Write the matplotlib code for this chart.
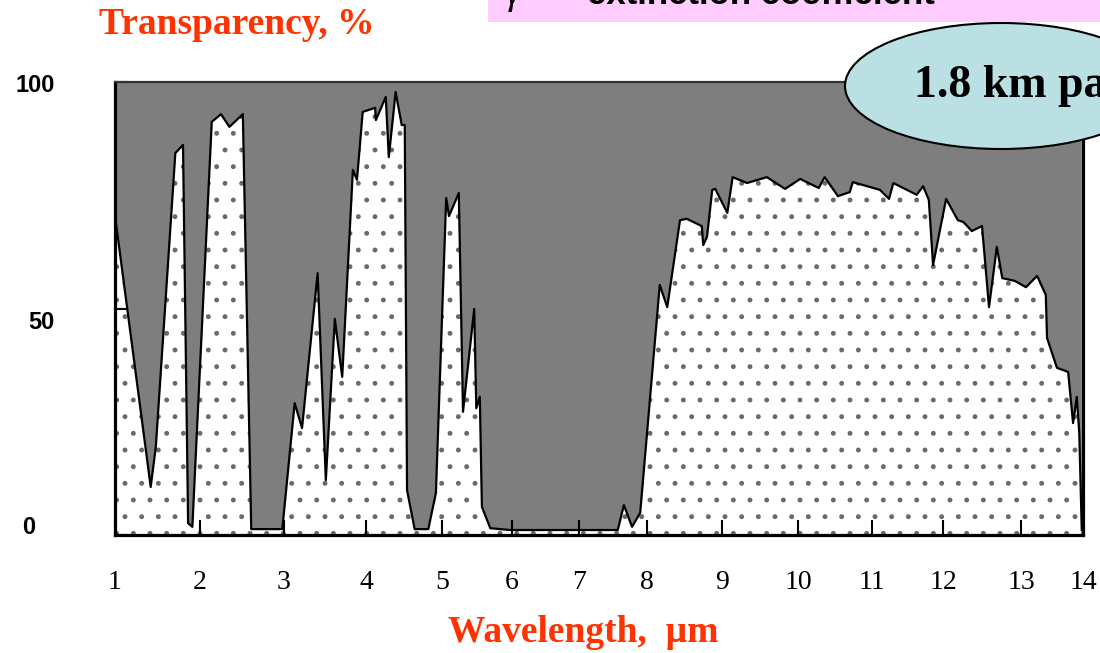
import matplotlib.pyplot as plt
import numpy as np
from matplotlib.patches import Ellipse, Rectangle
from matplotlib.transforms import ScaledTranslation, blended_transform_factory

# Atmospheric transmission over a 1.8 km horizontal path
wavelength = [1.00, 1.42, 1.48, 1.71, 1.80, 1.86, 1.91, 2.14, 2.25, 2.35,
              2.51, 2.61, 2.98, 3.13, 3.22, 3.41, 3.51, 3.62, 3.71, 3.84,
              3.89, 3.96, 4.12, 4.13, 4.26, 4.30, 4.39, 4.47, 4.51, 4.54,
              4.64, 4.82, 4.92, 5.06, 5.10, 5.24, 5.30, 5.46, 5.49, 5.54,
              5.57, 5.69, 5.97, 7.57, 7.66, 7.78, 7.90, 8.17, 8.27, 8.44,
              8.53, 8.73, 8.75, 8.80, 8.87, 8.91, 9.07, 9.14, 9.33, 9.59,
              9.83, 10.03, 10.28, 10.36, 10.54, 10.70, 10.74, 11.11, 11.24, 11.30,
              11.63, 11.72, 11.80, 11.86, 12.04, 12.19, 12.26, 12.37, 12.50, 12.59,
              12.69, 12.76, 12.92, 13.08, 13.26, 13.40, 13.42, 13.58, 13.76, 13.84,
              13.90, 13.94, 13.98]
transparency = [70.5, 10.6, 19.4, 84.3, 86.1, 2.6, 1.8, 91.2, 92.9, 90.1,
                 92.9, 1.3, 1.3, 29.1, 23.6, 57.8, 12.1, 47.7, 34.9, 80.6,
                 78.4, 93.4, 94.3, 91.6, 96.7, 83.4, 97.8, 90.5, 90.5, 9.9,
                 1.3, 1.3, 9.3, 74.4, 70.4, 75.5, 27.2, 49.9, 28.0, 30.5,
                 6.2, 1.5, 1.1, 1.1, 6.6, 1.8, 4.9, 55.2, 50.3, 69.5,
                 69.8, 68.2, 64.0, 65.8, 76.2, 76.4, 71.1, 79.0, 77.7, 79.0,
                 76.4, 78.6, 76.6, 79.0, 74.8, 75.7, 77.9, 76.2, 74.2, 77.7,
                 75.1, 77.0, 74.0, 59.6, 74.2, 69.5, 69.1, 67.1, 68.2, 50.3,
                 63.6, 56.7, 56.1, 54.7, 57.2, 53.0, 43.5, 36.9, 36.0, 24.7,
                 30.5, 22.5, 1.1]

# the wavelength axis is not linear: where each whole micron sits along it
axis_um = [0, 1, 2, 3, 4, 5, 6, 7, 8, 9, 10, 11, 12, 13, 14, 15]
axis_pos = [-85, 0, 85, 169, 251, 327, 397, 464, 532, 607, 683, 757, 828, 906, 968, 1030]

y_ticks = [0, 50, 100]
# hand-placed value labels on the slide: (right edge, vertical nudge) in pixels
y_label_nudge = [(-80, 7), (-60, -14), (-60, -3)]

RED = "#ff3300"
W, H = 1100, 653


def fwd(x):
    return np.interp(x, axis_um, axis_pos)


def inv(p):
    return np.interp(p, axis_pos, axis_um)


plt.rcParams["hatch.linewidth"] = 1.1

fig = plt.figure(figsize=(W / 100, H / 100), dpi=100)
ax = fig.add_axes([115 / W, (H - 535) / H, (1083 - 115) / W, (535 - 82) / H])
ax.set_xscale("function", functions=(fwd, inv))
ax.set_xlim(1, 14)
ax.set_ylim(0, 100)

# absorbed part (above the curve) and transmitted part (below it)
ax.fill_between(wavelength, transparency, 100, facecolor="#7e7e7e", linewidth=0, zorder=1)
ax.fill_between(wavelength, 0, transparency, facecolor="white", edgecolor="#6a6a6a",
                hatch=".", linewidth=0, zorder=1)
ax.plot(wavelength, transparency, color="black", linewidth=1.6, zorder=3)

for side in ["left", "bottom", "right"]:
    ax.spines[side].set_linewidth(2.3)
    ax.spines[side].set_color("black")
ax.spines["top"].set_linewidth(1.6)
ax.spines["top"].set_color("#333333")

ax.set_xticks(axis_um[1:-1])
ax.set_xticklabels([str(v) for v in axis_um[1:-1]], fontsize=20, family="Liberation Serif")
ax.tick_params(axis="x", direction="in", length=11, width=1.5, pad=25)
ax.set_yticks(y_ticks)
ax.set_yticklabels([])
ax.tick_params(axis="y", direction="in", length=9, width=1.5)

ytrans = blended_transform_factory(ax.transAxes, ax.transData)
for val, (dx, dy) in zip(y_ticks, y_label_nudge):
    ax.text(0, val, str(val), fontsize=17, fontweight="bold", family="Liberation Sans",
            ha="right", va="center", clip_on=False,
            transform=ytrans + ScaledTranslation(dx / 100, dy / 100, fig.dpi_scale_trans))

fig.text(237 / W, 1 - 25 / H, "Transparency, %", color=RED, fontsize=27,
         fontweight="bold", family="Liberation Serif", ha="center", va="center")
fig.text(583 / W, 1 - 632 / H, "Wavelength,  \u00b5m", color=RED, fontsize=27,
         fontweight="bold", family="Liberation Serif", ha="center", va="center")

# banner with the extinction coefficient definition, running off the top edge
fig.add_artist(Rectangle((488 / W, 1 - 22 / H), 1 - 488 / W, 22 / H,
                         transform=fig.transFigure, facecolor="#ffccff",
                         edgecolor="none", zorder=5))
fig.text(505 / W, 1 - 4 / H, "\u03b3", fontsize=26, family="Liberation Serif",
         style="italic", va="baseline", zorder=6)
fig.text(587 / W, 1 - 4 / H, "extinction coefficient", fontsize=25, fontweight="bold",
         family="Liberation Sans", va="baseline", zorder=6)

# path-length callout
fig.add_artist(Ellipse((1001 / W, 1 - 86 / H), 312 / W, 126 / H,
                       transform=fig.transFigure, facecolor="#bbe0e3",
                       edgecolor="black", linewidth=1.5, zorder=5))
fig.text(914 / W, 1 - 97 / H, "1.8 km path", fontsize=33, fontweight="bold",
         family="Liberation Serif", va="baseline", zorder=6)

fig.savefig("out.png", dpi=100)
